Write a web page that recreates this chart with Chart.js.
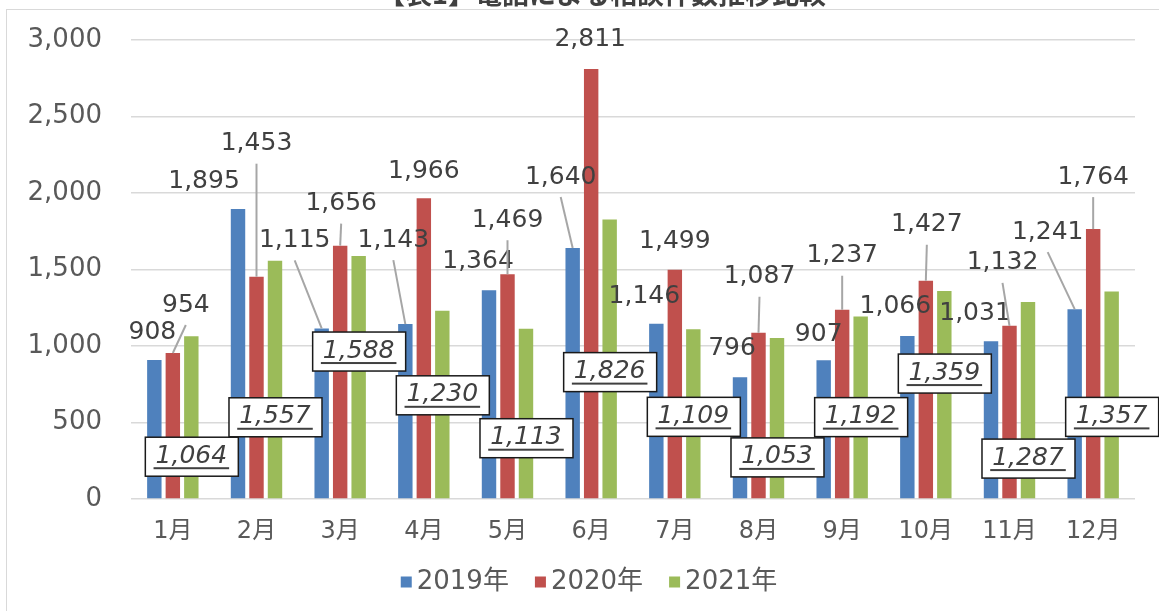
<!DOCTYPE html>
<html>
<head>
<meta charset="utf-8">
<script src="https://cdn.jsdelivr.net/npm/chart.js@4.4.1/dist/chart.umd.min.js"></script>
<style>
  html, body { margin: 0; padding: 0; background: #fff; }
</style>
</head>
<body>
<canvas id="grafico" width="1159" height="611"></canvas>
<script>
// datos del gráfico
var titulo = '【表1】電話による相談件数推移比較';
var meses = ['1月', '2月', '3月', '4月', '5月', '6月', '7月', '8月', '9月', '10月', '11月', '12月'];
var anios = ['2019年', '2020年', '2021年'];
var datos2019 = [908, 1895, 1115, 1143, 1364, 1640, 1146, 796, 907, 1066, 1031, 1241];
var datos2020 = [954, 1453, 1656, 1966, 1469, 2811, 1499, 1087, 1237, 1427, 1132, 1764];
var datos2021 = [1064, 1557, 1588, 1230, 1113, 1826, 1109, 1053, 1192, 1359, 1287, 1357];
var ticksY = [0, 500, 1000, 1500, 2000, 2500, 3000];

// desplazamiento de las etiquetas respecto a la punta de cada barra (px)
var desp2019 = [[-2, -28], [-34, -28], [-27, -88], [-12, -84], [-11, -29], [-12, -71],
                [-12, -27], [-8, -29], [-5, -26], [-12, -29], [-16, -28], [-27, -77]];
var desp2020 = [[13, -48], [0, -133], [1, -42], [0, -27], [0, -54], [-1, -29],
                [0, -28], [1, -56], [0, -54], [1, -56], [-7, -63], [0, -52]];
var desp2021 = [[0, 120], [0, 156], [0, 95], [0, 84], [0, 109], [0, 152],
                [0, 87], [0, 119], [0, 100], [0, 82], [0, 156], [0, 125]];

var colores = ['#4f81bd', '#c0504d', '#9bbb59'];
var fuenteNum = '"DejaVu Sans", "Noto Sans CJK JP", sans-serif';

function formato(v) {
    return v.toLocaleString('en-US');
}

var etiquetas = {
    id: 'etiquetas',
    beforeDraw: function (chart) {
        var ctx = chart.ctx;
        ctx.save();
        // marco del gráfico
        ctx.strokeStyle = '#d9d9d9';
        ctx.lineWidth = 1;
        ctx.strokeRect(6.5, 9.5, 2000, 2000);
        // título (cortado arriba)
        ctx.fillStyle = '#404040';
        ctx.font = 'bold 27px "Noto Sans CJK JP", sans-serif';
        ctx.textAlign = 'center';
        ctx.textBaseline = 'alphabetic';
        ctx.fillText(titulo, 602, 4);

        // leyenda propia (cuadro, hueco corto, texto)
        ctx.font = '26px ' + fuenteNum;
        ctx.textBaseline = 'middle';
        ctx.textAlign = 'left';
        var sets = chart.data.datasets;
        var anchos = sets.map(function (s) { return 11 + 5 + ctx.measureText(s.label).width; });
        var total = anchos.reduce(function (a, b) { return a + b; }, 0) + 26 * (sets.length - 1);
        var x = 589 - total / 2;
        var yc = 582;
        sets.forEach(function (s, i) {
            ctx.fillStyle = s.backgroundColor;
            ctx.fillRect(x, yc - 5.5, 11, 11);
            ctx.fillStyle = '#595959';
            ctx.fillText(s.label, x + 16, yc);
            x += anchos[i] + 26;
        });
        ctx.restore();
    },
    afterDatasetsDraw: function (chart) {
        var ctx = chart.ctx;
        var desps = [desp2019, desp2020];
        ctx.save();
        ctx.font = '25px ' + fuenteNum;
        ctx.textAlign = 'center';
        ctx.textBaseline = 'middle';

        // 2019 y 2020: texto con línea guía
        for (var d = 0; d < 2; d++) {
            var meta = chart.getDatasetMeta(d);
            meta.data.forEach(function (barra, i) {
                var cx = barra.x + desps[d][i][0];
                var cy = barra.y + desps[d][i][1];
                if (barra.y - (cy + 20) > 15) {
                    ctx.strokeStyle = '#a6a6a6';
                    ctx.lineWidth = 2;
                    ctx.beginPath();
                    ctx.moveTo(cx, cy + 20);
                    ctx.lineTo(barra.x, barra.y);
                    ctx.stroke();
                }
                ctx.fillStyle = '#404040';
                ctx.fillText(formato(chart.data.datasets[d].data[i]), cx, cy);
            });
        }

        // 2021: recuadro con texto cursiva subrayado
        var meta3 = chart.getDatasetMeta(2);
        ctx.font = 'italic 25px ' + fuenteNum;
        meta3.data.forEach(function (barra, i) {
            var cx = barra.x + desp2021[i][0];
            var cy = barra.y + desp2021[i][1];
            var txt = formato(chart.data.datasets[2].data[i]);
            var w = ctx.measureText(txt).width;
            ctx.fillStyle = '#fff';
            ctx.fillRect(cx - 46, cy - 19, 93, 39);
            ctx.strokeStyle = '#1a1a1a';
            ctx.lineWidth = 1.5;
            ctx.strokeRect(cx - 46, cy - 19, 93, 39);
            ctx.fillStyle = '#404040';
            ctx.fillText(txt, cx, cy);
            ctx.fillRect(cx - w / 2 - 2, cy + 11, w + 4, 2);
        });
        ctx.restore();
    }
};

var ctx = document.getElementById('grafico').getContext('2d');
window.grafico = new Chart(ctx, {
    type: 'bar',
    data: {
        labels: meses,
        datasets: [
            { label: anios[0], data: datos2019, backgroundColor: colores[0] },
            { label: anios[1], data: datos2020, backgroundColor: colores[1] },
            { label: anios[2], data: datos2021, backgroundColor: colores[2] }
        ]
    },
    options: {
        responsive: false,
        devicePixelRatio: 1,
        animation: false,
        categoryPercentage: 0.663,
        barPercentage: 0.78,
        layout: { padding: { top: 40, right: 24, left: 0, bottom: 54 } },
        plugins: {
            legend: { display: false },
            tooltip: { enabled: false }
        },
        scales: {
            x: {
                grid: { display: false, drawTicks: false },
                border: { display: false },
                ticks: {
                    padding: 18,
                    color: '#595959',
                    font: { family: fuenteNum, size: 24 }
                },
                afterFit: function (s) { s.height = 58; }
            },
            y: {
                min: 0,
                max: 3000,
                afterBuildTicks: function (s) {
                    s.ticks = ticksY.map(function (v) { return { value: v }; });
                },
                grid: { color: '#d9d9d9', lineWidth: 1.5, drawTicks: false },
                border: { display: false },
                ticks: {
                    padding: 29,
                    color: '#595959',
                    // alto de línea bajo para que el margen de arriba no crezca
                    font: { family: fuenteNum, size: 26, lineHeight: 0.8 },
                    callback: function (v) { return formato(v); }
                },
                afterFit: function (s) { s.width = 131; }
            }
        }
    },
    plugins: [etiquetas]
});
</script>
</body>
</html>
